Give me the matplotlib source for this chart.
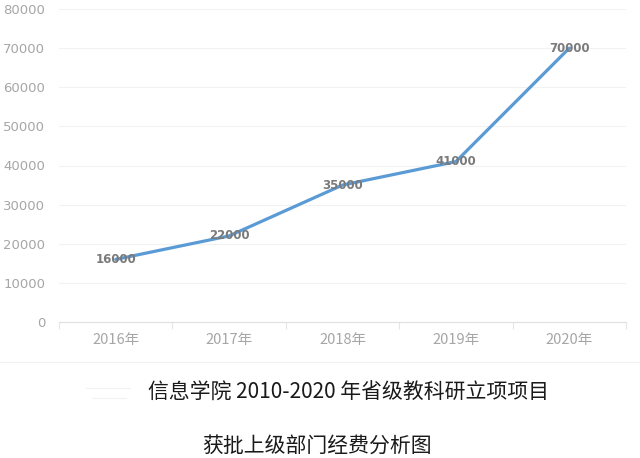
import matplotlib
matplotlib.use("Agg")
import matplotlib.pyplot as plt
from matplotlib.lines import Line2D

plt.rcParams['font.family'] = ['Noto Sans CJK SC', 'DejaVu Sans']

years = ["2016年", "2017年", "2018年", "2019年", "2020年"]
funds = [16000, 22000, 35000, 41000, 70000]
yticks = [0, 10000, 20000, 30000, 40000, 50000, 60000, 70000, 80000]
title1 = "信息学院 2010-2020 年省级教科研立项项目"
title2 = "获批上级部门经费分析图"

fig = plt.figure(figsize=(6.4, 4.58), dpi=100)
ax = fig.add_axes([59/640, 1-322/458, (626-59)/640, (322-9)/458])

x = list(range(len(years)))
ax.plot(x, funds, color="#5B9BD5", lw=2.3, solid_capstyle="round", zorder=3)
for xi, v in zip(x, funds):
    ax.text(xi, v, str(v), ha="center", va="center", fontsize=8.5,
            color="#7a7a7a", fontweight="bold", family=["DejaVu Sans"], zorder=4)

ax.set_xlim(-0.5, len(years) - 0.5)
ax.set_ylim(0, 80000)
ax.set_yticks(yticks)
ax.set_yticklabels([str(t) for t in yticks], color="#a6a6a6", fontsize=9.5,
                   family=["DejaVu Sans"])
ax.grid(axis="y", color="#f2f2f2", lw=0.8, zorder=0)
ax.tick_params(axis="y", length=0, pad=10)

ax.set_xticks(x)
ax.set_xticklabels(years, color="#a6a6a6", fontsize=10.5)
ax.tick_params(axis="x", length=0, pad=8)
ax.set_xticks([i - 0.5 for i in range(len(years) + 1)], minor=True)
ax.tick_params(axis="x", which="minor", length=5, color="#e6e6e6", width=0.8)

for s in ["top", "right", "left"]:
    ax.spines[s].set_visible(False)
ax.spines["bottom"].set_color("#e0e0e0")
ax.spines["bottom"].set_linewidth(0.8)

fig.add_artist(Line2D([0, 1], [1-362/458, 1-362/458], color="#f2f2f2", lw=0.8,
                      transform=fig.transFigure))
fig.add_artist(Line2D([86/640, 130/640], [1-388/458, 1-388/458], color="#f2f2f2", lw=0.8,
                      transform=fig.transFigure))
fig.add_artist(Line2D([92/640, 126/640], [1-398/458, 1-398/458], color="#f2f2f2", lw=0.8,
                      transform=fig.transFigure))

fig.text(348/640, 1-393/458, title1, ha="center", va="center", fontsize=15, color="#1a1a1a")
fig.text(317/640, 1-446/458, title2, ha="center", va="center", fontsize=15, color="#1a1a1a")

fig.savefig("out.png", dpi=100, facecolor="white")
